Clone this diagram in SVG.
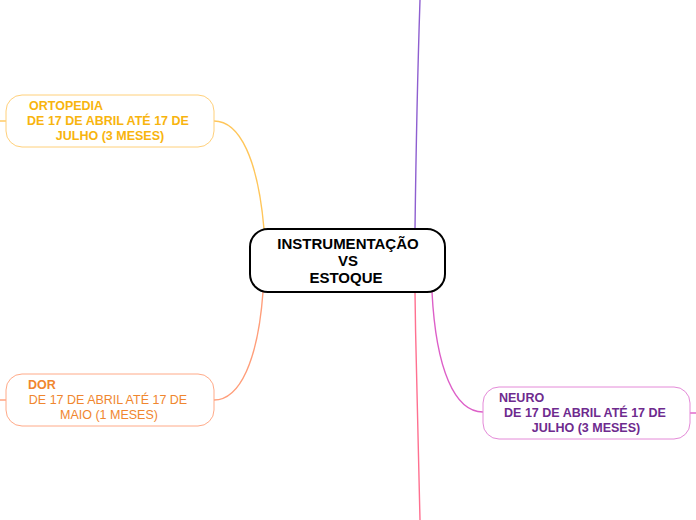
<svg xmlns="http://www.w3.org/2000/svg" width="696" height="520" viewBox="0 0 696 520">
<style>
text{font-family:"Liberation Sans",Arial,sans-serif;font-size:12.5px;}
.b{font-weight:bold;}
.t{font-size:15px;font-weight:bold;fill:#000000;}
.c{fill:none;stroke-width:1.4;}
.node{fill:#ffffff;stroke-width:1;}
</style>
<rect width="696" height="520" fill="#ffffff"/>
<g id="connectors">
<path class="c" stroke="#8E5FD0" d="M415,229 C416,150 418,60 420,0"/>
<path class="c" stroke="#FF7090" d="M415,292 C416,370 418,450 420,520"/>
<path class="c" stroke="#FFC65A" d="M264,229 C258,160 240,121 214,121"/>
<path class="c" stroke="#FFC65A" d="M0,121 L6,121"/>
<path class="c" stroke="#FF9E7A" d="M263,292 C258,360 240,400 214,400"/>
<path class="c" stroke="#FF9E7A" d="M0,400 L6,400"/>
<path class="c" stroke="#DD5FC8" d="M432,292 C436,370 455,412 483,412"/>
<path class="c" stroke="#DD5FC8" d="M690,413 L696,413"/>
</g>
<g id="center">
<rect x="250" y="229" width="195" height="63" rx="18" fill="#ffffff" stroke="#000000" stroke-width="2"/>
<text class="t" x="348" y="249" text-anchor="middle">INSTRUMENTAÇÃO</text>
<text class="t" x="348" y="266" text-anchor="middle">VS</text>
<text class="t" x="346" y="283" text-anchor="middle">ESTOQUE</text>
</g>
<g id="ortopedia">
<rect class="node" x="6" y="95" width="208" height="52" rx="16" stroke="#FFD07A"/>
<text class="b" x="29" y="110" fill="#F8B40E">ORTOPEDIA</text>
<text class="b" x="108" y="125" text-anchor="middle" fill="#F8B40E">DE 17 DE ABRIL ATÉ 17 DE</text>
<text class="b" x="110" y="140" text-anchor="middle" fill="#F8B40E">JULHO (3 MESES)</text>
</g>
<g id="dor">
<rect class="node" x="6" y="374" width="208" height="52" rx="16" stroke="#FFAA88"/>
<text class="b" x="28" y="389" fill="#F0862E">DOR</text>
<text x="108" y="404" text-anchor="middle" fill="#F0862E">DE 17 DE ABRIL ATÉ 17 DE</text>
<text x="109" y="419" text-anchor="middle" fill="#F0862E">MAIO (1 MESES)</text>
</g>
<g id="neuro">
<rect class="node" x="483" y="387" width="207" height="52" rx="16" stroke="#E48AD8"/>
<text class="b" x="499" y="402" fill="#6E2A8E">NEURO</text>
<text class="b" x="585" y="417" text-anchor="middle" fill="#6E2A8E">DE 17 DE ABRIL ATÉ 17 DE</text>
<text class="b" x="586" y="432" text-anchor="middle" fill="#6E2A8E">JULHO (3 MESES)</text>
</g>
</svg>
